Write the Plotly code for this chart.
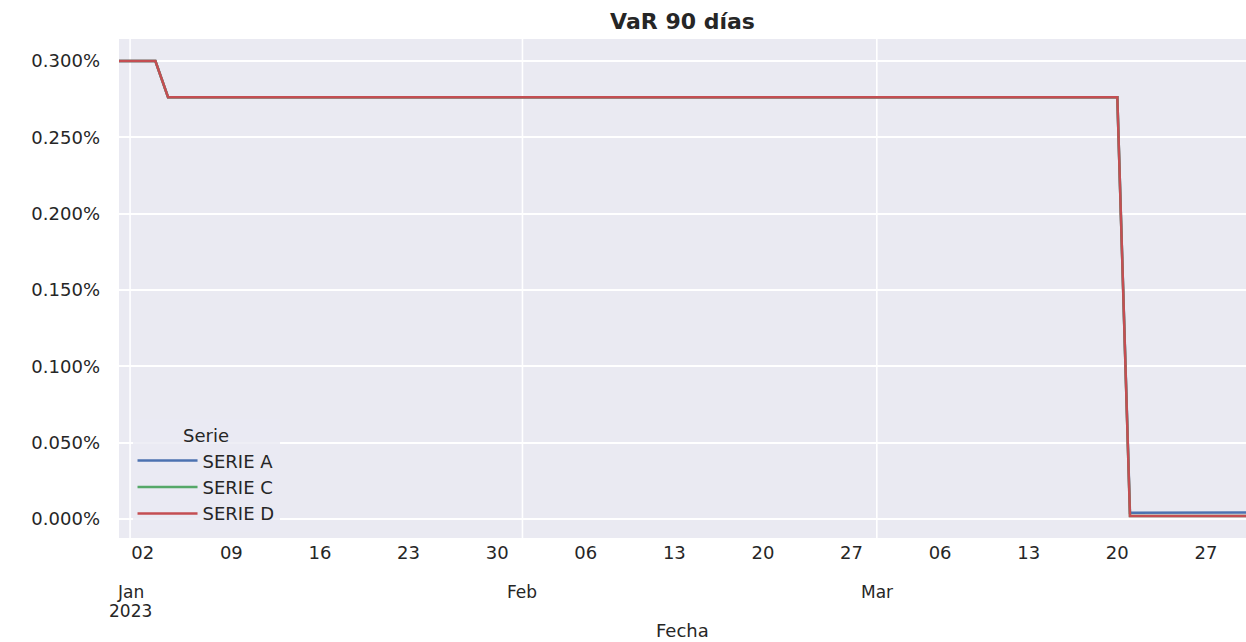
import plotly.graph_objects as go

# ---- data ----
fechas = ["2022-12-31", "2023-01-03", "2023-01-04", "2023-03-20", "2023-03-21", "2023-03-31"]
serie_a = [0.003000, 0.003000, 0.002763, 0.002763, 0.000040, 0.000042]
serie_c = [0.003000, 0.003000, 0.002763, 0.002763, 0.000020, 0.000020]
serie_d = [0.003000, 0.003000, 0.002763, 0.002763, 0.000020, 0.000020]
nombres = ["SERIE A", "SERIE C", "SERIE D"]
colores = ["#4C72B0", "#55A868", "#C44E52"]

semanas = ["2023-01-02", "2023-01-09", "2023-01-16", "2023-01-23", "2023-01-30",
           "2023-02-06", "2023-02-13", "2023-02-20", "2023-02-27",
           "2023-03-06", "2023-03-13", "2023-03-20", "2023-03-27"]
semanas_txt = ["02", "09", "16", "23", "30", "06", "13", "20", "27", "06", "13", "20", "27"]
meses = ["2023-01-01", "2023-02-01", "2023-03-01"]
meses_txt = ["Jan", "Feb", "Mar"]
anio_txt = "2023"
y_ticks = [0.0, 0.0005, 0.0010, 0.0015, 0.0020, 0.0025, 0.0030]

FONT = "DejaVu Sans"
TXT = "#262626"
FS = 18

fig = go.Figure()
for nombre, serie, color in zip(nombres, [serie_a, serie_c, serie_d], colores):
    fig.add_trace(go.Scatter(x=fechas, y=serie, mode="lines", name=nombre,
                             line=dict(color=color, width=2.5)))

shapes = [dict(type="line", xref="x", yref="paper", x0=m, x1=m, y0=0, y1=1,
               line=dict(color="white", width=1.6), layer="below") for m in meses]

annotations = [dict(x=m, y=0, xref="x", yref="paper", text=t, showarrow=False,
                    yanchor="middle", yshift=-54, font=dict(family=FONT, size=17, color=TXT))
               for m, t in zip(meses, meses_txt)]
annotations.append(dict(x=meses[0], y=0, xref="x", yref="paper", text=anio_txt, showarrow=False,
                        yanchor="middle", yshift=-73, font=dict(family=FONT, size=17, color=TXT)))
annotations.append(dict(x=0.5, y=0, xref="paper", yref="paper", text="Fecha", showarrow=False,
                        yanchor="middle", yshift=-92, font=dict(family=FONT, size=FS, color=TXT)))

fig.update_layout(
    width=1246, height=642,
    margin=dict(l=119, r=0, t=39, b=104, autoexpand=False),
    paper_bgcolor="white",
    plot_bgcolor="#EAEAF2",
    font=dict(family=FONT, size=FS, color=TXT),
    title=dict(text="<b>VaR 90 días</b>", x=0.5, xref="paper", xanchor="center",
               y=1, yref="container", yanchor="top", pad=dict(t=14),
               font=dict(family=FONT, size=22, color=TXT)),
    xaxis=dict(type="date", range=["2022-12-31 03:00", "2023-03-30 04:00"],
               tickmode="array", tickvals=semanas, ticktext=semanas_txt,
               showgrid=False, zeroline=False, showline=False, automargin=False,
               ticks="", ticklabelstandoff=2,
               tickfont=dict(family=FONT, size=FS, color=TXT)),
    yaxis=dict(range=[-0.0001247, 0.003144], tickmode="array", tickvals=y_ticks,
               tickformat=".3%", showgrid=True, gridcolor="white", gridwidth=1.6,
               zeroline=False, showline=False, ticks="", ticklabelstandoff=18,
               automargin=False,
               tickfont=dict(family=FONT, size=FS, color=TXT)),
    shapes=shapes,
    annotations=annotations,
    legend=dict(x=0.012, y=0.012, xanchor="left", yanchor="bottom",
                bgcolor="rgba(234,234,242,0.8)", borderwidth=0,
                title=dict(text="Serie", side="top center",
                           font=dict(family=FONT, size=FS, color=TXT)),
                font=dict(family=FONT, size=FS, color=TXT),
                itemwidth=60, tracegroupgap=0),
    showlegend=True,
)

fig.write_html("out.html", config={"displayModeBar": False},
               post_script="document.body.style.margin='0';document.body.style.overflow='hidden';")
